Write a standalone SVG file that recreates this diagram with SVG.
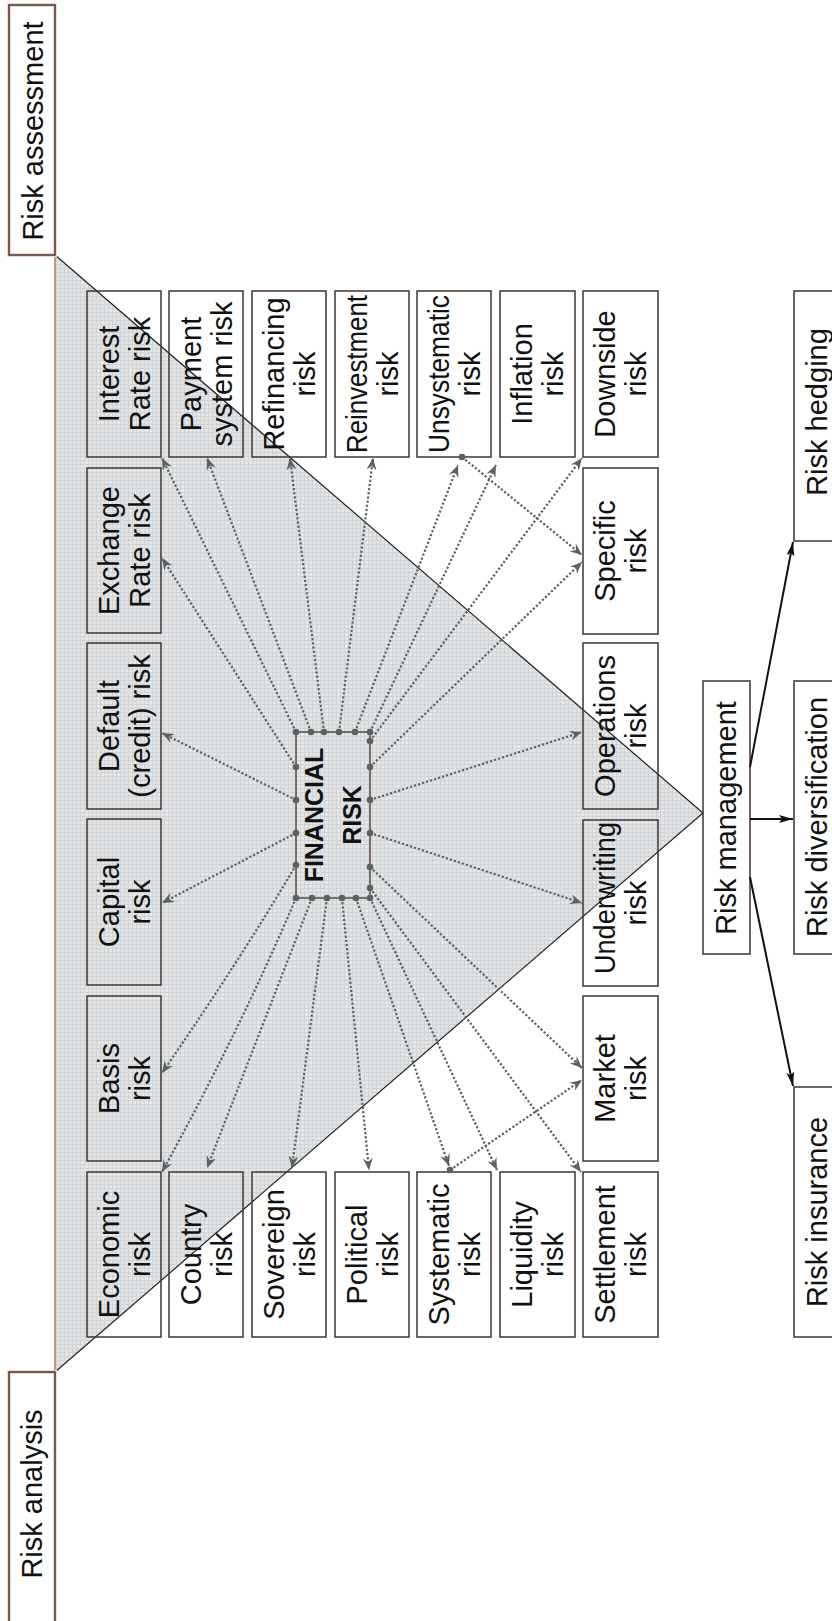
<svg xmlns="http://www.w3.org/2000/svg" width="832" height="1621" viewBox="0 0 832 1621">
<style>
.bx{fill:none;stroke:#3e3432;stroke-width:1.5}
.halo{fill:none;stroke:#f6d6ca;stroke-width:4}
.t{font-family:"Liberation Sans",Arial,sans-serif;font-size:29px;fill:#111;text-anchor:middle}
.tb{font-family:"Liberation Sans",Arial,sans-serif;font-size:25px;font-weight:bold;fill:#111;text-anchor:middle}
.dl{fill:none;stroke:#5b6263;stroke-width:2.2;stroke-dasharray:2.2 2}
.dot{fill:#5b6263}
.sl{fill:none;stroke:#111;stroke-width:2}
</style>
<defs>
<pattern id="grid" width="4" height="4" patternUnits="userSpaceOnUse">
<rect width="4" height="4" fill="#e3e5e6"/>
<path d="M0 0.5H4M0.5 0V4" stroke="#d0d4d6" stroke-width="1"/>
</pattern>
<marker id="ga" viewBox="0 0 12 10" refX="12" refY="5" markerWidth="12" markerHeight="10" markerUnits="userSpaceOnUse" orient="auto">
<path d="M0,0 L12,5 L0,10 L4,5 Z" fill="#5b6263"/>
</marker>
<marker id="ba" viewBox="0 0 14 8" refX="14" refY="4" markerWidth="14" markerHeight="8" markerUnits="userSpaceOnUse" orient="auto">
<path d="M0,0 L14,4 L0,8 L3,4 Z" fill="#111"/>
</marker>
</defs>
<rect width="832" height="1621" fill="#fff"/>

<g id="triangle">
<polygon points="55,255 703,813 55,1372" fill="url(#grid)"/>
<line x1="55" y1="255" x2="55" y2="1372" stroke="#c0765a" stroke-width="1.5"/>
<polyline points="55,255 703,813 55,1372" fill="none" stroke="#222" stroke-width="1.2"/>
</g>

<g id="risk-assessment"><rect class="halo" x="9" y="5" width="46" height="250"/><rect class="bx" x="9" y="5" width="46" height="250"/><text class="t" transform="translate(43,131) rotate(-90)">Risk assessment</text></g>
<g id="risk-analysis"><rect class="halo" x="9" y="1372" width="46" height="260"/><rect class="bx" x="9" y="1372" width="46" height="260"/><text class="t" transform="translate(42,1494) rotate(-90)">Risk analysis</text></g>

<g id="interest-rate-risk"><rect class="bx" x="87" y="291" width="74" height="166"/><text class="t" transform="translate(119,374) rotate(-90)"><tspan x="0">Interest</tspan><tspan x="0" dy="30.5">Rate risk</tspan></text></g>
<g id="payment-system-risk"><rect class="bx" x="169" y="291" width="74" height="166"/><text class="t" transform="translate(201,374) rotate(-90)"><tspan x="0">Payment</tspan><tspan x="0" dy="30.5">system risk</tspan></text></g>
<g id="refinancing-risk"><rect class="bx" x="252" y="291" width="74" height="166"/><text class="t" transform="translate(284,374) rotate(-90)"><tspan x="0">Refinancing</tspan><tspan x="0" dy="30.5">risk</tspan></text></g>
<g id="reinvestment-risk"><rect class="bx" x="335" y="291" width="74" height="166"/><text class="t" transform="translate(367,374) rotate(-90)"><tspan x="0" textLength="158" lengthAdjust="spacingAndGlyphs">Reinvestment</tspan><tspan x="0" dy="30.5">risk</tspan></text></g>
<g id="unsystematic-risk"><rect class="bx" x="417" y="291" width="74" height="166"/><text class="t" transform="translate(449,374) rotate(-90)"><tspan x="0" textLength="158" lengthAdjust="spacingAndGlyphs">Unsystematic</tspan><tspan x="0" dy="30.5">risk</tspan></text></g>
<g id="inflation-risk"><rect class="bx" x="500" y="291" width="75" height="166"/><text class="t" transform="translate(532,374) rotate(-90)"><tspan x="0">Inflation</tspan><tspan x="0" dy="30.5">risk</tspan></text></g>
<g id="downside-risk"><rect class="bx" x="583" y="291" width="75" height="166"/><text class="t" transform="translate(615,374) rotate(-90)"><tspan x="0">Downside</tspan><tspan x="0" dy="30.5">risk</tspan></text></g>

<g id="exchange-rate-risk"><rect class="bx" x="87" y="468" width="74" height="165"/><text class="t" transform="translate(119,550.5) rotate(-90)"><tspan x="0">Exchange</tspan><tspan x="0" dy="30.5">Rate risk</tspan></text></g>
<g id="default-credit-risk"><rect class="bx" x="87" y="643" width="74" height="166"/><text class="t" transform="translate(119,726) rotate(-90)"><tspan x="0">Default</tspan><tspan x="0" dy="30.5">(credit) risk</tspan></text></g>
<g id="capital-risk"><rect class="bx" x="87" y="819" width="74" height="166"/><text class="t" transform="translate(119,902) rotate(-90)"><tspan x="0">Capital</tspan><tspan x="0" dy="30.5">risk</tspan></text></g>
<g id="basis-risk"><rect class="bx" x="87" y="996" width="74" height="165"/><text class="t" transform="translate(119,1078.5) rotate(-90)"><tspan x="0">Basis</tspan><tspan x="0" dy="30.5">risk</tspan></text></g>

<g id="specific-risk"><rect class="bx" x="583" y="468" width="75" height="166"/><text class="t" transform="translate(615,551) rotate(-90)"><tspan x="0">Specific</tspan><tspan x="0" dy="30.5">risk</tspan></text></g>
<g id="operations-risk"><rect class="bx" x="583" y="643" width="75" height="166"/><text class="t" transform="translate(615,726) rotate(-90)"><tspan x="0">Operations</tspan><tspan x="0" dy="30.5">risk</tspan></text></g>
<g id="underwriting-risk"><rect class="bx" x="583" y="820" width="75" height="166"/><text class="t" transform="translate(615,903) rotate(-90)"><tspan x="5" textLength="152" lengthAdjust="spacingAndGlyphs">Underwriting</tspan><tspan x="0" dy="30.5">risk</tspan></text></g>
<g id="market-risk"><rect class="bx" x="583" y="996" width="75" height="165"/><text class="t" transform="translate(615,1078.5) rotate(-90)"><tspan x="0">Market</tspan><tspan x="0" dy="30.5">risk</tspan></text></g>

<g id="economic-risk"><rect class="bx" x="87" y="1172" width="74" height="165"/><text class="t" transform="translate(119,1254.5) rotate(-90)"><tspan x="0">Economic</tspan><tspan x="0" dy="30.5">risk</tspan></text></g>
<g id="country-risk"><rect class="bx" x="169" y="1172" width="74" height="165"/><text class="t" transform="translate(201,1254.5) rotate(-90)"><tspan x="0">Country</tspan><tspan x="0" dy="30.5">risk</tspan></text></g>
<g id="sovereign-risk"><rect class="bx" x="252" y="1172" width="74" height="165"/><text class="t" transform="translate(284,1254.5) rotate(-90)"><tspan x="0">Sovereign</tspan><tspan x="0" dy="30.5">risk</tspan></text></g>
<g id="political-risk"><rect class="bx" x="335" y="1172" width="74" height="165"/><text class="t" transform="translate(367,1254.5) rotate(-90)"><tspan x="0">Political</tspan><tspan x="0" dy="30.5">risk</tspan></text></g>
<g id="systematic-risk"><rect class="bx" x="417" y="1172" width="74" height="165"/><text class="t" transform="translate(449,1254.5) rotate(-90)"><tspan x="0">Systematic</tspan><tspan x="0" dy="30.5">risk</tspan></text></g>
<g id="liquidity-risk"><rect class="bx" x="500" y="1172" width="75" height="165"/><text class="t" transform="translate(532,1254.5) rotate(-90)"><tspan x="0">Liquidity</tspan><tspan x="0" dy="30.5">risk</tspan></text></g>
<g id="settlement-risk"><rect class="bx" x="583" y="1172" width="75" height="165"/><text class="t" transform="translate(615,1254.5) rotate(-90)"><tspan x="0">Settlement</tspan><tspan x="0" dy="30.5">risk</tspan></text></g>

<g id="financial-risk"><rect x="296" y="732" width="74" height="166" fill="none" stroke="#4a3028" stroke-width="1.3"/><text class="tb" transform="translate(323,815) rotate(-90)"><tspan x="0">FINANCIAL</tspan><tspan x="0" dy="38">RISK</tspan></text></g>

<g id="risk-management"><rect class="bx" x="703" y="681" width="47" height="273"/><text class="t" transform="translate(736,818) rotate(-90)">Risk management</text></g>
<g id="risk-hedging"><rect class="bx" x="794" y="291" width="80" height="250"/><text class="t" transform="translate(827,412) rotate(-90)">Risk hedging</text></g>
<g id="risk-diversification"><rect class="bx" x="794" y="681" width="80" height="273"/><text class="t" transform="translate(827,817) rotate(-90)">Risk diversification</text></g>
<g id="risk-insurance"><rect class="bx" x="794" y="1087" width="80" height="250"/><text class="t" transform="translate(827,1212) rotate(-90)">Risk insurance</text></g>

<g id="connectors">
<g marker-end="url(#ga)">
<path class="dl" d="M296,732 L162,458"/>
<path class="dl" d="M311,732 L207,458"/>
<path class="dl" d="M324,732 L290,458"/>
<path class="dl" d="M339,732 L373,458"/>
<path class="dl" d="M355,732 L458,465"/>
<path class="dl" d="M370,732 L496,465"/>
<path class="dl" d="M370,741 L582,458"/>
<path class="dl" d="M370,767 L582,562"/>
<path class="dl" d="M370,800 L582,732"/>
<path class="dl" d="M370,833 L582,903"/>
<path class="dl" d="M370,867 L582,1068"/>
<path class="dl" d="M370,888 L581,1172"/>
<path class="dl" d="M296,898 Q240,1030 162,1172"/>
<path class="dl" d="M312,898 L207,1168"/>
<path class="dl" d="M327,898 L292,1168"/>
<path class="dl" d="M342,898 L369,1170"/>
<path class="dl" d="M356,898 L449,1166"/>
<path class="dl" d="M370,898 L497,1170"/>
<path class="dl" d="M296,767 L162,558"/>
<path class="dl" d="M296,800 L162,733"/>
<path class="dl" d="M296,833 L162,903"/>
<path class="dl" d="M296,865 Q240,960 162,1073"/>
<path class="dl" d="M462,457 L582,555"/>
<path class="dl" d="M450,1170 L582,1080"/>
</g>
<g class="dot">
<circle cx="296" cy="732" r="3.3"/><circle cx="311" cy="732" r="3.3"/><circle cx="324" cy="732" r="3.3"/><circle cx="339" cy="732" r="3.3"/><circle cx="355" cy="732" r="3.3"/><circle cx="370" cy="732" r="3.3"/>
<circle cx="370" cy="741" r="3.3"/><circle cx="370" cy="767" r="3.3"/><circle cx="370" cy="800" r="3.3"/><circle cx="370" cy="833" r="3.3"/><circle cx="370" cy="867" r="3.3"/><circle cx="370" cy="888" r="3.3"/>
<circle cx="296" cy="898" r="3.3"/><circle cx="312" cy="898" r="3.3"/><circle cx="327" cy="898" r="3.3"/><circle cx="342" cy="898" r="3.3"/><circle cx="356" cy="898" r="3.3"/><circle cx="370" cy="898" r="3.3"/>
<circle cx="296" cy="767" r="3.3"/><circle cx="296" cy="800" r="3.3"/><circle cx="296" cy="833" r="3.3"/><circle cx="296" cy="865" r="3.3"/>
<circle cx="462" cy="457" r="3.3"/><circle cx="450" cy="1170" r="3.3"/>
</g>
<g marker-end="url(#ba)">
<path class="sl" d="M750,767 L793,542"/>
<path class="sl" d="M750,819 L793,819"/>
<path class="sl" d="M750,877 L793,1086"/>
</g>
</g>
</svg>
